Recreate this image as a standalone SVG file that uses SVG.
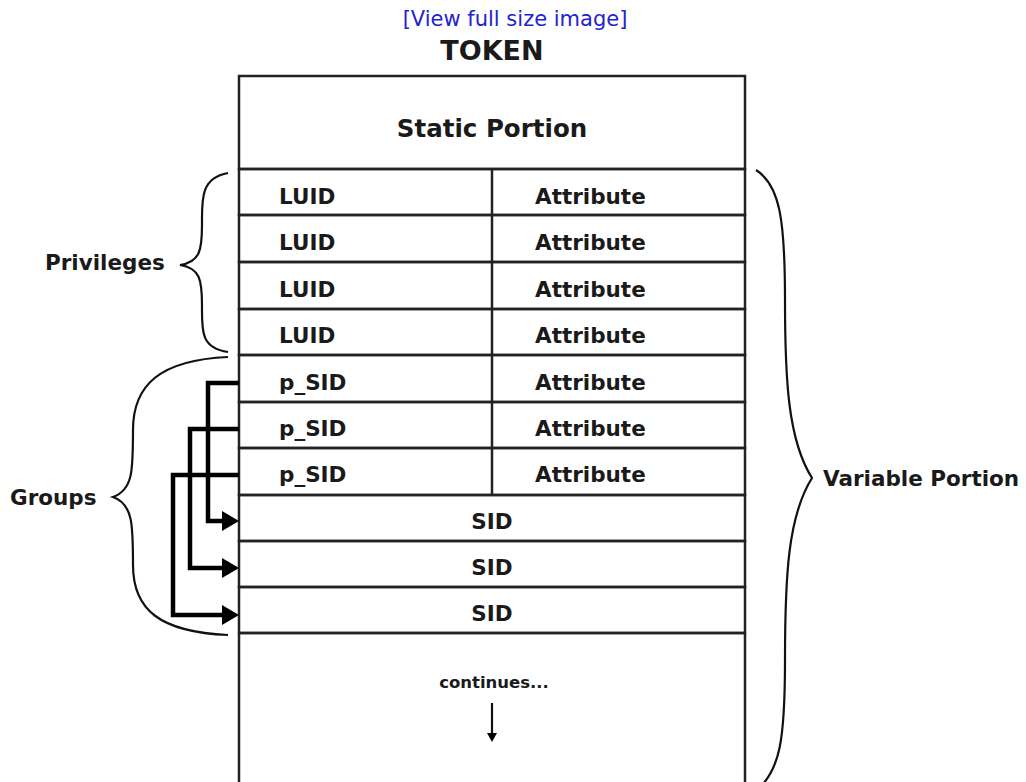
<svg xmlns="http://www.w3.org/2000/svg" width="1026" height="782" viewBox="0 0 1026 782">
<style>
.t{font-family:"DejaVu Sans",Verdana,sans-serif;font-size:21.5px;fill:#1a1a1a;font-weight:bold}
.c{text-anchor:middle}
.ln{stroke:#222;stroke-width:2.5;fill:none}
.br{stroke:#111;stroke-width:2.2;fill:none}
.ar{stroke:#000;stroke-width:4.5;fill:none}
.hd{fill:#000}
</style>
<rect width="1026" height="782" fill="#fff"/>
<text x="515" y="26" text-anchor="middle" style="font-family:'DejaVu Sans',Verdana,sans-serif;font-size:21px;fill:#2323d0">[View full size image]</text>
<text x="492" y="60" class="t c" style="font-size:27px">TOKEN</text>

<g id="static"><rect x="239" y="76" width="506" height="93" class="ln"/><text x="492" y="137" class="t c" style="font-size:24.5px">Static Portion</text></g>
<g id="luid1"><rect x="239" y="169" width="506" height="46" class="ln"/><line x1="492" y1="169" x2="492" y2="215" class="ln"/><text x="279" y="204" class="t">LUID</text><text x="535" y="204" class="t">Attribute</text></g>
<g id="luid2"><rect x="239" y="215" width="506" height="47" class="ln"/><line x1="492" y1="215" x2="492" y2="262" class="ln"/><text x="279" y="250" class="t">LUID</text><text x="535" y="250" class="t">Attribute</text></g>
<g id="luid3"><rect x="239" y="262" width="506" height="47" class="ln"/><line x1="492" y1="262" x2="492" y2="309" class="ln"/><text x="279" y="297" class="t">LUID</text><text x="535" y="297" class="t">Attribute</text></g>
<g id="luid4"><rect x="239" y="309" width="506" height="46" class="ln"/><line x1="492" y1="309" x2="492" y2="355" class="ln"/><text x="279" y="343" class="t">LUID</text><text x="535" y="343" class="t">Attribute</text></g>
<g id="psid1"><rect x="239" y="355" width="506" height="47" class="ln"/><line x1="492" y1="355" x2="492" y2="402" class="ln"/><text x="279" y="390" class="t">p_SID</text><text x="535" y="390" class="t">Attribute</text></g>
<g id="psid2"><rect x="239" y="402" width="506" height="46" class="ln"/><line x1="492" y1="402" x2="492" y2="448" class="ln"/><text x="279" y="436" class="t">p_SID</text><text x="535" y="436" class="t">Attribute</text></g>
<g id="psid3"><rect x="239" y="448" width="506" height="47" class="ln"/><line x1="492" y1="448" x2="492" y2="495" class="ln"/><text x="279" y="482" class="t">p_SID</text><text x="535" y="482" class="t">Attribute</text></g>
<g id="sid1"><rect x="239" y="495" width="506" height="46" class="ln"/><text x="492" y="529" class="t c">SID</text></g>
<g id="sid2"><rect x="239" y="541" width="506" height="46" class="ln"/><text x="492" y="575" class="t c">SID</text></g>
<g id="sid3"><rect x="239" y="587" width="506" height="46" class="ln"/><text x="492" y="621" class="t c">SID</text></g>
<g id="cont"><path d="M239,633 V790 M745,633 V790 M239,633 H745" class="ln"/><text x="494" y="688" class="t c" style="font-size:16.5px">continues...</text><line x1="492" y1="703" x2="492" y2="734" stroke="#111" stroke-width="2.2"/><path d="M487,733 L497,733 L492,742 Z" class="hd"/></g>

<g id="privileges"><path d="M228,173 C200,178 202,200 202,225 C202,250 200,262 180,265 C200,268 202,280 202,305 C202,330 200,348 228,352" class="br"/><text x="45" y="270" class="t">Privileges</text></g>
<g id="groups"><path d="M228,357 C160,360 133,385 133,430 C133,470 133,490 113,497 C133,504 133,525 133,565 C133,610 160,632 228,635" class="br"/><text x="10" y="505" class="t">Groups</text></g>
<g id="variable"><path d="M756,170 C780,185 785,220 785,300 C785,380 788,440 812,478 C788,516 785,576 785,660 C785,740 780,770 757,790" class="br"/><text x="823" y="486" class="t">Variable Portion</text></g>

<g id="connectors">
<path d="M239,383 H208 V521 H224" class="ar"/><path d="M222,511 L239,521 L222,531 Z" class="hd"/>
<path d="M239,429 H190 V568 H224" class="ar"/><path d="M222,558 L239,568 L222,578 Z" class="hd"/>
<path d="M239,475 H173 V615 H224" class="ar"/><path d="M222,605 L239,615 L222,625 Z" class="hd"/>
</g>
</svg>
